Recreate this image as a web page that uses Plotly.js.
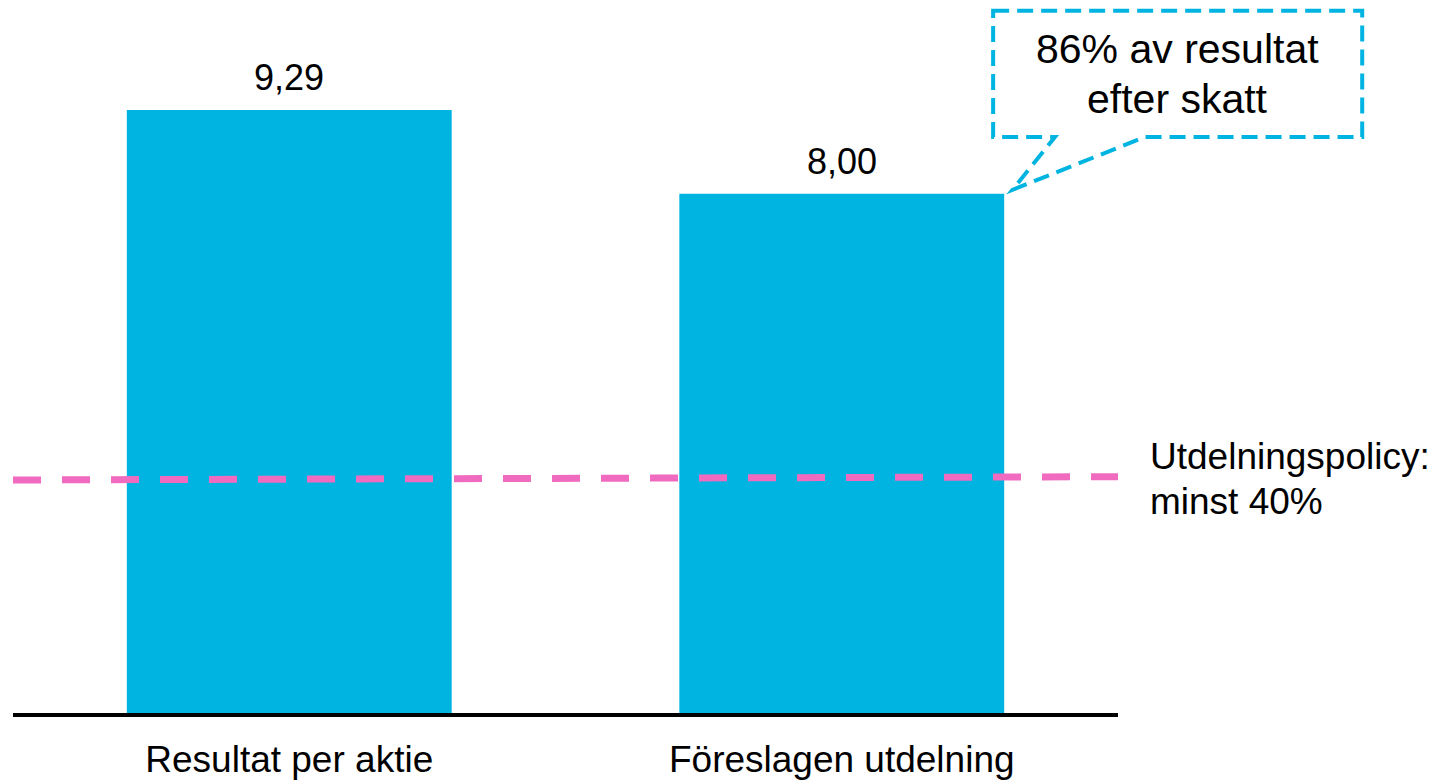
<!DOCTYPE html>
<html>
<head>
<meta charset="utf-8">
<script src="https://cdn.plot.ly/plotly-3.0.1.min.js"></script>
<style>html,body{margin:0;padding:0;background:#fff;}#chart{width:1434px;height:782px;}</style>
</head>
<body>
<div id="chart"></div>
<script>
// ---- data ----
const categories = ['Resultat per aktie', 'Föreslagen utdelning'];
const values = [9.29, 8.00];
const policyLevels = [3.59, 3.64];          // dashed policy line, left and right end
const policyText = ['Utdelningspolicy:', 'minst 40%'];
const calloutText = ['86% av resultat', 'efter skatt'];

// ---- styling / layout helpers ----
const FONT = 'Liberation Sans, Arial, sans-serif';
const BAR = '#00B4E1';
const PINK = '#F06BC0';
const xRange = [-0.5, 1.5];
const yRange = [0, 10.83];
const barWidth = 0.588;
const px = x => (x - xRange[0]) / (xRange[1] - xRange[0]);
const py = y => (y - yRange[0]) / (yRange[1] - yRange[0]);
const fmt = v => v.toFixed(2).replace('.', ',');

// callout geometry (data units, anchored at right top corner of bar 2)
const tipX = 1 + barWidth / 2 + 0.015, tipY = values[1] + 0.06;
const box = {x0: 1.274, x1: 1.942, y0: 8.875, y1: 10.82};
const ptrL = 1.386, ptrR = 1.549;
const pathPts = [[box.x0, box.y1], [box.x1, box.y1], [box.x1, box.y0], [ptrR, box.y0],
                 [tipX, tipY], [ptrL, box.y0], [box.x0, box.y0]];
const calloutPath = 'M ' + pathPts.map(p => px(p[0]).toFixed(5) + ',' + py(p[1]).toFixed(5)).join(' L ') + ' Z';

const trace = {
  type: 'bar',
  x: [0, 1],
  y: values,
  width: barWidth,
  marker: {color: BAR, line: {width: 0}},
  hoverinfo: 'skip'
};

const boxMidY = (box.y0 + box.y1) / 2;
const calloutX = (box.x0 + box.x1) / 2;

const valueLabels = values.map((v, i) => ({
  xref: 'x', yref: 'y', x: i, y: v, yshift: 32, text: fmt(v), showarrow: false,
  xanchor: 'center', yanchor: 'middle', font: {family: FONT, size: 36, color: '#000'}
}));

const layout = {
  width: 1434, height: 782,
  margin: {l: 13, r: 316, t: 10, b: 69},
  paper_bgcolor: '#fff', plot_bgcolor: '#fff',
  showlegend: false,
  font: {family: FONT, color: '#000'},
  xaxis: {
    range: xRange, tickvals: [0, 1], ticktext: categories,
    showgrid: false, zeroline: false, showline: true, linecolor: '#000', linewidth: 4,
    ticks: '', tickfont: {family: FONT, size: 37, color: '#000'},
    ticklabelstandoff: 11, fixedrange: true
  },
  yaxis: {
    range: yRange, showgrid: false, zeroline: false, showline: false,
    showticklabels: false, ticks: '', fixedrange: true
  },
  shapes: [
    {type: 'line', xref: 'paper', yref: 'y', x0: 0, x1: 1, y0: policyLevels[0], y1: policyLevels[1],
     line: {color: PINK, width: 7, dash: '28px,21px'}},
    {type: 'path', xref: 'paper', yref: 'paper', path: calloutPath,
     line: {color: BAR, width: 4, dash: '16px,8px'}, fillcolor: 'rgba(0,0,0,0)'}
  ],
  annotations: valueLabels.concat([
    {xref: 'paper', yref: 'paper', x: px(calloutX), y: py(boxMidY), yshift: 25, text: calloutText[0],
     showarrow: false, xanchor: 'center', yanchor: 'middle', font: {family: FONT, size: 41, color: '#000'}},
    {xref: 'paper', yref: 'paper', x: px(calloutX), y: py(boxMidY), yshift: -25, text: calloutText[1],
     showarrow: false, xanchor: 'center', yanchor: 'middle', font: {family: FONT, size: 41, color: '#000'}},
    {xref: 'paper', yref: 'y', x: 1.027, y: (policyLevels[0] + policyLevels[1]) / 2, yshift: 22, text: policyText[0],
     showarrow: false, xanchor: 'left', yanchor: 'middle', font: {family: FONT, size: 37, color: '#000'}},
    {xref: 'paper', yref: 'y', x: 1.027, y: (policyLevels[0] + policyLevels[1]) / 2, yshift: -23, text: policyText[1],
     showarrow: false, xanchor: 'left', yanchor: 'middle', font: {family: FONT, size: 37, color: '#000'}}
  ])
};

Plotly.newPlot('chart', [trace], layout, {displayModeBar: false, staticPlot: true});
</script>
</body>
</html>
